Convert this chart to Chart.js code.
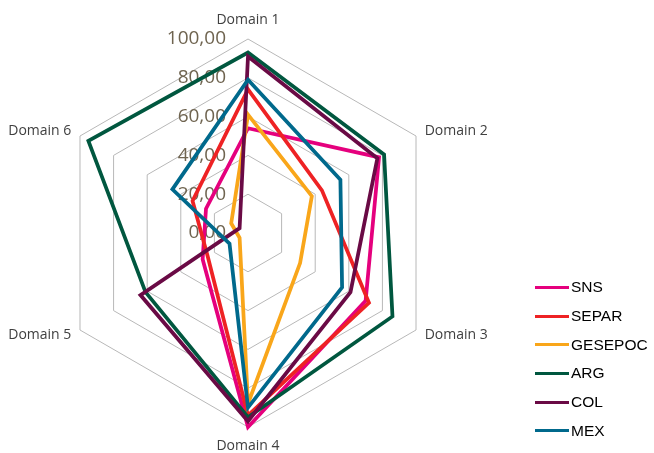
<!DOCTYPE html>
<html lang="en">
<head>
    <meta charset="UTF-8">
    <title>Domains radar</title>
    <script src="https://cdn.jsdelivr.net/npm/chart.js"></script>
    <style>
        body {
            margin: 0;
            padding: 0;
            background: #ffffff;
        }
        .wrap {
            position: relative;
            width: 654px;
            height: 453px;
        }
        #legend {
            position: absolute;
            left: 535px;
            top: 273px;
            font-family: "Liberation Sans", Arial, sans-serif;
            font-size: 15.5px;
            color: #000000;
        }
        .legend-item {
            display: flex;
            align-items: center;
            height: 28.7px;
        }
        .legend-line {
            width: 34px;
            height: 3px;
            margin-right: 2px;
        }
    </style>
</head>
<body>
    <div class="wrap">
        <canvas id="radarChart" width="654" height="453"></canvas>
        <div id="legend"></div>
    </div>

    <script>
        const domains = ['Domain 1', 'Domain 2', 'Domain 3', 'Domain 4', 'Domain 5', 'Domain 6'];
        const tickLabels = ['0,00', '20,00', '40,00', '60,00', '80,00', '100,00'];

        const seriesNames = ['SNS', 'SEPAR', 'GESEPOC', 'ARG', 'COL', 'MEX'];
        const seriesColors = ['#e5007d', '#ee2224', '#f9a61a', '#00573f', '#6a0a45', '#00698c'];

        const sns = [54, 78, 70, 100, 27, 25];
        const separ = [74, 44, 72, 94, 24, 33];
        const gesepoc = [61, 38, 31, 88, 5, 10];
        const arg = [93, 81, 86, 95, 61, 95];
        const col = [91, 77, 61, 97, 64, 5];
        const mex = [79, 55, 56, 90, 11, 45];

        const seriesValues = [sns, separ, gesepoc, arg, col, mex];

        // tick labels sit left of the vertical axis, under the lines
        const tickLabelPlugin = {
            id: 'tickLabels',
            beforeDatasetsDraw(chart) {
                const r = chart.scales.r;
                const ctx = chart.ctx;
                ctx.save();
                ctx.font = '19px "Open Sans"';
                ctx.fillStyle = '#6f6450';
                ctx.textAlign = 'right';
                ctx.textBaseline = 'middle';
                r.ticks.forEach(t => {
                    const y = r.yCenter - r.getDistanceFromCenterForValue(t.value);
                    ctx.fillText(t.label, r.xCenter - 22, y);
                });
                ctx.restore();
            }
        };

        const datasets = seriesNames.map((name, i) => ({
            label: name,
            data: seriesValues[i],
            borderColor: seriesColors[i],
            backgroundColor: seriesColors[i],
            borderWidth: 3.75,
            borderJoinStyle: 'miter',
            pointRadius: 0,
            fill: false,
            order: -i
        }));

        new Chart(document.getElementById('radarChart'), {
            type: 'radar',
            data: {
                labels: domains,
                datasets: datasets
            },
            options: {
                responsive: false,
                animation: false,
                devicePixelRatio: 1,
                layout: {
                    padding: { left: 4, right: 160, top: 13, bottom: 0 }
                },
                plugins: {
                    legend: { display: false },
                    tooltip: { enabled: false }
                },
                scales: {
                    r: {
                        min: 0,
                        max: 100,
                        ticks: {
                            stepSize: 20,
                            display: false,
                            callback: (v, i) => tickLabels[i]
                        },
                        grid: {
                            color: '#b8b8b8',
                            lineWidth: 1
                        },
                        angleLines: { display: false },
                        pointLabels: {
                            color: '#404040',
                            padding: ctx => (ctx.index % 3 === 0 ? 12 : 10),
                            // side labels centred on their vertex level, like the original
                            font: ctx => ({
                                family: 'Open Sans',
                                size: 14,
                                lineHeight: ctx.index % 3 === 0 ? 1 : 0.01
                            })
                        }
                    }
                }
            },
            plugins: [tickLabelPlugin]
        });

        const legend = document.getElementById('legend');
        seriesNames.forEach((name, i) => {
            const item = document.createElement('div');
            item.className = 'legend-item';
            item.innerHTML = `<div class="legend-line" style="background:${seriesColors[i]}"></div><span>${name}</span>`;
            legend.appendChild(item);
        });
    </script>
</body>
</html>
